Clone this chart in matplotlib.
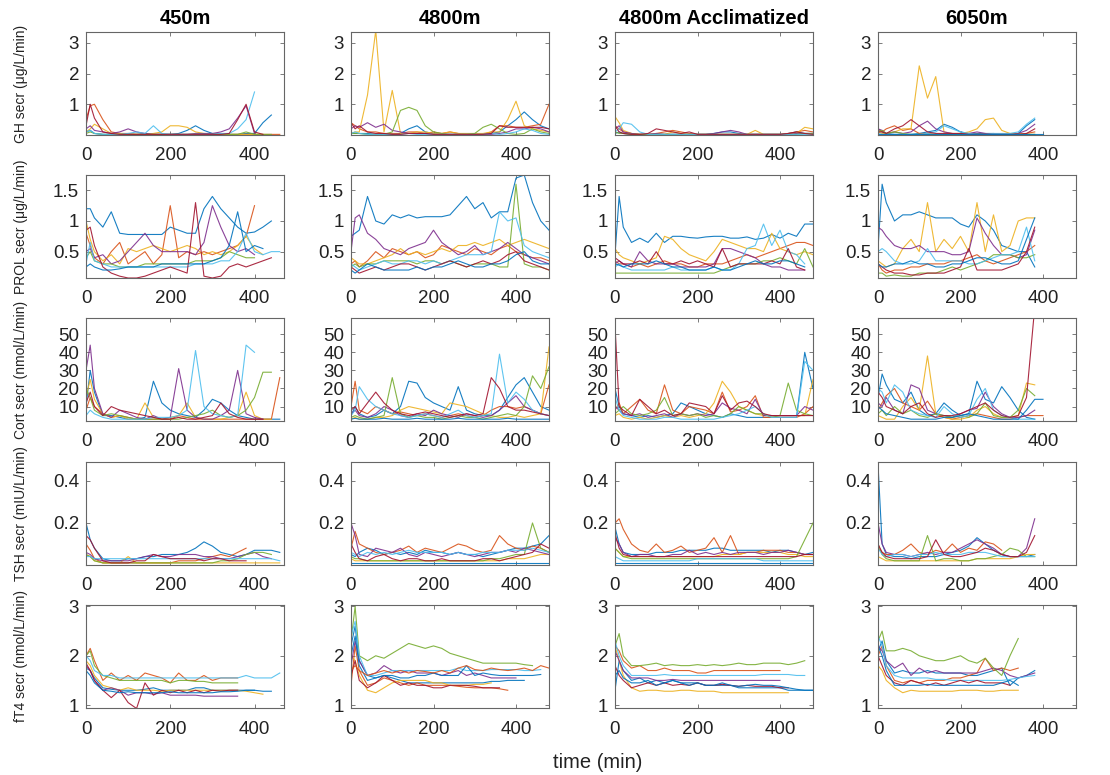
import matplotlib
matplotlib.use('Agg')
import matplotlib.pyplot as plt

plt.rcParams['font.family'] = ['Liberation Sans', 'DejaVu Sans']

# sampling times (min)
minutes = [0, 10, 20, 40, 60, 80, 100, 120, 140, 160, 180, 200, 220, 240,
           260, 280, 300, 320, 340, 360, 380, 400, 420, 440, 460, 480]

conditions = ['450m', '4800m', '4800m Acclimatized', '6050m']

# ---------------- GH secretion (ug/L/min) ----------------
gh_450 = [
    [0.1, 0.15, 0.05, 0.02, 0.02, 0.02, 0.02, 0.02, 0.05, 0.02, 0.02, 0.02, 0.05, 0.15, 0.3, 0.15, 0.05, 0.02, 0.02, 0.02, 0.05, 0.05, 0.4, 0.65],
    [0.5, 0.95, 1.0, 0.5, 0.1, 0.05, 0.05, 0.02, 0.02, 0.02, 0.02, 0.02, 0.02, 0.02, 0.02, 0.02, 0.02, 0.02, 0.02, 0.02, 0.02, 0.02, 0.02, 0.02, 0.02],
    [0.1, 0.2, 0.35, 0.2, 0.05, 0.05, 0.02, 0.02, 0.02, 0.05, 0.1, 0.3, 0.3, 0.25, 0.1, 0.05, 0.02, 0.02, 0.02, 0.02, 0.02, 0.02, 0.02],
    [0.2, 0.3, 0.15, 0.1, 0.05, 0.1, 0.2, 0.1, 0.05, 0.02, 0.02, 0.02, 0.02, 0.02, 0.05, 0.05, 0.05, 0.1, 0.2, 0.55, 0.95, 0.05],
    [0.05, 0.1, 0.05, 0.02, 0.02, 0.02, 0.02, 0.02, 0.02, 0.02, 0.02, 0.02, 0.02, 0.02, 0.02, 0.02, 0.02, 0.02, 0.02, 0.02, 0.1, 0.02, 0.02, 0.02],
    [0.1, 0.15, 0.05, 0.02, 0.02, 0.02, 0.05, 0.1, 0.05, 0.3, 0.05, 0.02, 0.02, 0.02, 0.02, 0.02, 0.02, 0.05, 0.05, 0.2, 0.5, 1.4],
    [0.3, 1.0, 0.55, 0.1, 0.05, 0.02, 0.02, 0.02, 0.02, 0.02, 0.02, 0.02, 0.02, 0.02, 0.02, 0.02, 0.02, 0.02, 0.05, 0.5, 1.0, 0.1, 0.02],
]
gh_4800 = [
    [0.05, 0.05, 0.05, 0.05, 0.02, 0.02, 0.02, 0.05, 0.2, 0.3, 0.1, 0.05, 0.02, 0.02, 0.02, 0.02, 0.02, 0.02, 0.05, 0.1, 0.3, 0.5, 0.75, 0.5, 0.3, 0.2],
    [0.4, 0.3, 0.2, 0.1, 0.1, 0.05, 0.05, 0.05, 0.1, 0.1, 0.05, 0.1, 0.05, 0.1, 0.05, 0.02, 0.02, 0.02, 0.1, 0.3, 0.3, 0.25, 0.25, 0.3, 0.35, 1.0],
    [0.05, 0.1, 0.1, 1.3, 3.4, 0.1, 1.45, 0.05, 0.05, 0.1, 0.1, 0.05, 0.05, 0.1, 0.05, 0.05, 0.05, 0.05, 0.1, 0.1, 0.5, 1.1, 0.3, 0.2, 0.15, 0.1],
    [0.2, 0.3, 0.25, 0.4, 0.25, 0.35, 0.15, 0.1, 0.05, 0.05, 0.05, 0.02, 0.02, 0.02, 0.02, 0.02, 0.02, 0.02, 0.02, 0.05, 0.1, 0.2, 0.2, 0.25, 0.2, 0.1],
    [0.05, 0.05, 0.05, 0.02, 0.02, 0.02, 0.1, 0.8, 0.9, 0.8, 0.3, 0.1, 0.05, 0.02, 0.02, 0.02, 0.05, 0.25, 0.35, 0.2, 0.05, 0.02, 0.05, 0.2, 0.1, 0.05],
    [0.05, 0.1, 0.05, 0.02, 0.02, 0.02, 0.02, 0.02, 0.05, 0.02, 0.02, 0.02, 0.02, 0.02, 0.02, 0.02, 0.02, 0.02, 0.05, 0.02, 0.05, 0.1, 0.2, 0.15, 0.05, 0.02],
    [0.4, 0.2, 0.3, 0.1, 0.05, 0.05, 0.02, 0.02, 0.05, 0.05, 0.05, 0.02, 0.02, 0.02, 0.02, 0.02, 0.02, 0.02, 0.05, 0.3, 0.25, 0.25, 0.25, 0.25, 0.25, 0.2],
]
gh_4800acc = [
    [0.05, 0.1, 0.05, 0.02, 0.02, 0.02, 0.02, 0.02, 0.02, 0.02, 0.02, 0.02, 0.02, 0.05, 0.1, 0.1, 0.05, 0.02, 0.02, 0.02, 0.02, 0.02, 0.05, 0.1, 0.05, 0.05],
    [0.3, 0.2, 0.1, 0.05, 0.02, 0.02, 0.05, 0.1, 0.15, 0.1, 0.05, 0.02, 0.02, 0.02, 0.02, 0.02, 0.02, 0.02, 0.02, 0.02, 0.02, 0.02, 0.05, 0.1, 0.15, 0.1],
    [0.6, 0.4, 0.15, 0.05, 0.02, 0.02, 0.02, 0.02, 0.1, 0.05, 0.02, 0.02, 0.02, 0.02, 0.02, 0.02, 0.02, 0.02, 0.15, 0.02, 0.02, 0.02, 0.02, 0.05, 0.25, 0.2],
    [0.2, 0.3, 0.1, 0.05, 0.02, 0.02, 0.05, 0.02, 0.02, 0.02, 0.02, 0.02, 0.02, 0.05, 0.1, 0.15, 0.1, 0.02, 0.02, 0.02, 0.02, 0.02, 0.02, 0.05, 0.05, 0.05],
    [0.1, 0.05, 0.05, 0.02, 0.02, 0.02, 0.02, 0.02, 0.02, 0.02, 0.02, 0.02, 0.02, 0.02, 0.02, 0.02, 0.02, 0.02, 0.02, 0.02, 0.02, 0.02, 0.02, 0.02, 0.05, 0.05],
    [0.1, 0.2, 0.4, 0.35, 0.1, 0.02, 0.02, 0.02, 0.02, 0.02, 0.02, 0.02, 0.02, 0.02, 0.02, 0.02, 0.02, 0.02, 0.02, 0.02, 0.02, 0.02, 0.02, 0.02, 0.02, 0.02],
    [0.3, 0.1, 0.05, 0.02, 0.02, 0.05, 0.2, 0.15, 0.1, 0.05, 0.1, 0.02, 0.02, 0.02, 0.02, 0.02, 0.02, 0.02, 0.02, 0.02, 0.02, 0.02, 0.05, 0.1, 0.05, 0.02],
]
gh_6050 = [
    [0.2, 0.1, 0.05, 0.02, 0.02, 0.02, 0.05, 0.1, 0.15, 0.35, 0.25, 0.1, 0.05, 0.05, 0.05, 0.05, 0.02, 0.02, 0.05, 0.3, 0.5],
    [0.2, 0.1, 0.2, 0.3, 0.15, 0.2, 0.05, 0.05, 0.02, 0.02, 0.02, 0.05, 0.02, 0.02, 0.02, 0.02, 0.02, 0.02, 0.02, 0.05, 0.1],
    [0.1, 0.05, 0.05, 0.1, 0.2, 0.2, 2.25, 1.2, 1.9, 0.1, 0.05, 0.05, 0.1, 0.2, 0.5, 0.55, 0.15, 0.05, 0.05, 0.02, 0.02],
    [0.2, 0.15, 0.05, 0.1, 0.05, 0.1, 0.3, 0.45, 0.2, 0.1, 0.05, 0.02, 0.05, 0.1, 0.05, 0.02, 0.02, 0.02, 0.05, 0.15, 0.35],
    [0.1, 0.15, 0.05, 0.1, 0.05, 0.02, 0.02, 0.02, 0.02, 0.02, 0.02, 0.02, 0.02, 0.02, 0.02, 0.02, 0.02, 0.02, 0.02, 0.02, 0.02],
    [0.05, 0.02, 0.02, 0.02, 0.02, 0.02, 0.02, 0.05, 0.1, 0.3, 0.2, 0.1, 0.05, 0.02, 0.02, 0.05, 0.05, 0.05, 0.1, 0.35, 0.55],
    [0.1, 0.1, 0.05, 0.2, 0.3, 0.5, 0.3, 0.1, 0.05, 0.05, 0.05, 0.05, 0.02, 0.02, 0.02, 0.02, 0.02, 0.02, 0.02, 0.05, 0.2],
    [0.02, 0.02, 0.02, 0.02, 0.02, 0.02, 0.02, 0.02, 0.02, 0.02, 0.02, 0.02, 0.02, 0.02, 0.02, 0.02, 0.02, 0.02, 0.02, 0.02, 0.02, 0.02],
]

# ---------------- PROL secretion (ug/L/min) ----------------
prol_450 = [
    [1.2, 1.2, 1.05, 0.9, 1.15, 0.8, 0.78, 0.78, 0.78, 0.78, 0.78, 0.9, 0.85, 0.8, 0.8, 1.2, 1.4, 1.2, 1.05, 0.9, 0.8, 0.82, 0.9, 1.0],
    [0.8, 0.6, 0.4, 0.3, 0.5, 0.65, 0.3, 0.4, 0.5, 0.3, 0.45, 1.25, 0.4, 0.5, 0.45, 0.5, 0.45, 0.5, 0.55, 0.6, 0.75, 1.25],
    [1.0, 0.7, 0.5, 0.35, 0.45, 0.3, 0.55, 0.5, 0.55, 0.6, 0.55, 0.5, 0.55, 0.6, 0.55, 0.45, 0.5, 0.45, 0.5, 0.6, 0.75, 0.55, 0.45],
    [0.5, 0.55, 0.4, 0.45, 0.3, 0.35, 0.5, 0.65, 0.8, 0.6, 0.5, 0.5, 0.5, 0.5, 0.45, 0.65, 1.25, 0.9, 0.6, 0.5, 0.55, 0.45],
    [0.4, 0.5, 0.35, 0.3, 0.3, 0.25, 0.25, 0.25, 0.3, 0.3, 0.3, 0.3, 0.3, 0.3, 0.35, 0.35, 0.35, 0.4, 0.5, 0.45, 0.4, 0.4],
    [0.3, 0.65, 0.35, 0.3, 0.25, 0.25, 0.25, 0.25, 0.25, 0.25, 0.25, 0.25, 0.25, 0.25, 0.3, 0.3, 0.3, 0.35, 0.35, 0.5, 0.8, 0.5, 0.45, 0.5, 0.5],
    [0.85, 0.9, 0.6, 0.25, 0.15, 0.1, 0.07, 0.07, 0.1, 0.15, 0.2, 0.25, 0.2, 0.15, 1.3, 0.1, 0.07, 0.1, 0.25, 0.3, 0.25, 0.3, 0.35, 0.4],
    [0.25, 0.3, 0.25, 0.2, 0.2, 0.22, 0.25, 0.25, 0.25, 0.25, 0.3, 0.3, 0.3, 0.3, 0.3, 0.3, 0.35, 0.4, 0.6, 1.15, 0.5, 0.6, 0.55],
]
prol_4800 = [
    [0.75, 0.8, 0.85, 1.4, 1.0, 0.95, 1.1, 1.05, 1.1, 1.05, 1.07, 1.07, 1.07, 1.1, 1.25, 1.4, 1.2, 1.3, 1.05, 1.15, 1.15, 1.7, 1.75, 1.3, 1.0, 0.85],
    [0.3, 0.35, 0.25, 0.35, 0.5, 0.4, 0.55, 0.5, 0.45, 0.5, 0.4, 0.45, 0.6, 0.55, 0.5, 0.45, 0.55, 0.5, 0.45, 0.55, 0.6, 0.5, 0.45, 0.4, 0.4, 0.35],
    [0.4, 0.35, 0.3, 0.3, 0.35, 0.4, 0.45, 0.55, 0.45, 0.5, 0.45, 0.5, 0.55, 0.5, 0.6, 0.6, 0.65, 0.6, 0.65, 0.7, 0.6, 0.65, 0.7, 0.65, 0.6, 0.55],
    [0.5, 1.05, 1.1, 0.8, 0.7, 0.55, 0.5, 0.45, 0.55, 0.6, 0.65, 0.85, 0.65, 0.55, 0.45, 0.5, 0.6, 0.45, 0.5, 0.55, 0.65, 0.55, 0.45, 0.4, 0.35, 0.3],
    [0.25, 0.3, 0.25, 0.3, 0.3, 0.35, 0.35, 0.35, 0.35, 0.3, 0.35, 0.35, 0.3, 0.35, 0.3, 0.25, 0.3, 0.3, 0.3, 0.25, 0.25, 1.6, 0.3, 0.25, 0.25, 0.2],
    [0.3, 0.25, 0.2, 0.25, 0.3, 0.35, 0.3, 0.3, 0.35, 0.35, 0.3, 0.35, 0.3, 0.35, 0.4, 0.45, 0.45, 0.45, 0.5, 1.15, 1.0, 1.05, 0.6, 0.5, 0.45, 0.4],
    [0.25, 0.2, 0.15, 0.2, 0.25, 0.2, 0.25, 0.3, 0.3, 0.25, 0.2, 0.25, 0.3, 0.35, 0.3, 0.25, 0.3, 0.35, 0.3, 0.35, 0.45, 0.5, 0.35, 0.3, 0.25, 0.2],
    [0.2, 0.15, 0.2, 0.3, 0.25, 0.2, 0.2, 0.2, 0.2, 0.25, 0.2, 0.25, 0.25, 0.3, 0.35, 0.3, 0.25, 0.25, 0.3, 0.3, 0.35, 0.45, 0.5, 0.35, 0.3, 0.3],
]
prol_4800acc = [
    [0.45, 1.4, 0.9, 0.65, 0.72, 0.65, 0.8, 0.65, 0.75, 0.75, 0.73, 0.72, 0.74, 0.75, 0.75, 0.72, 0.72, 0.74, 0.7, 0.72, 0.78, 0.72, 0.8, 0.75, 0.95, 0.95],
    [0.35, 0.3, 0.3, 0.25, 0.3, 0.25, 0.3, 0.35, 0.3, 0.3, 0.25, 0.25, 0.3, 0.3, 0.3, 0.35, 0.4, 0.45, 0.4, 0.45, 0.5, 0.55, 0.6, 0.65, 0.65, 0.6],
    [0.55, 0.45, 0.4, 0.35, 0.3, 0.35, 0.4, 0.75, 0.7, 0.55, 0.45, 0.4, 0.35, 0.5, 0.7, 0.65, 0.6, 0.55, 0.55, 0.5, 0.8, 0.55, 0.5, 0.45, 0.5, 0.45],
    [0.3, 0.35, 0.3, 0.25, 0.5, 0.35, 0.3, 0.3, 0.3, 0.25, 0.25, 0.25, 0.25, 0.3, 0.55, 0.55, 0.5, 0.45, 0.4, 0.3, 0.25, 0.25, 0.2, 0.2, 0.2],
    [0.15, 0.15, 0.15, 0.15, 0.15, 0.15, 0.15, 0.15, 0.15, 0.15, 0.15, 0.15, 0.15, 0.15, 0.2, 0.25, 0.3, 0.3, 0.3, 0.35, 0.35, 0.4, 0.35, 0.3, 0.55, 0.25],
    [0.25, 0.3, 0.25, 0.2, 0.2, 0.2, 0.2, 0.2, 0.25, 0.2, 0.2, 0.2, 0.2, 0.25, 0.2, 0.2, 0.3, 0.55, 0.6, 0.95, 0.6, 0.85, 0.5, 0.45, 0.3],
    [0.4, 0.35, 0.3, 0.3, 0.35, 0.3, 0.5, 0.3, 0.3, 0.35, 0.3, 0.35, 0.3, 0.25, 0.55, 0.25, 0.3, 0.3, 0.3, 0.3, 0.35, 0.3, 0.55, 0.25, 0.2],
    [0.3, 0.28, 0.25, 0.3, 0.3, 0.3, 0.35, 0.3, 0.25, 0.25, 0.2, 0.2, 0.2, 0.25, 0.2, 0.2, 0.25, 0.3, 0.35, 0.3, 0.3, 0.35, 0.35, 0.3, 0.25],
]
prol_6050 = [
    [0.55, 1.6, 1.3, 1.0, 1.1, 1.1, 1.15, 1.1, 1.05, 1.05, 1.05, 0.95, 0.9, 1.1, 1.0, 0.85, 0.6, 0.55, 0.5, 0.5, 0.25],
    [0.3, 0.2, 0.15, 0.2, 0.2, 0.25, 0.25, 0.3, 0.3, 0.3, 0.35, 0.35, 0.4, 0.45, 0.35, 0.3, 0.35, 0.4, 0.45, 0.5, 0.6],
    [0.35, 0.3, 0.25, 0.3, 0.55, 0.7, 0.5, 1.3, 0.5, 0.7, 0.55, 0.75, 0.5, 1.3, 0.5, 1.1, 0.5, 0.6, 1.0, 1.05, 1.05],
    [0.9, 0.85, 0.75, 0.6, 0.55, 0.55, 0.6, 0.5, 0.5, 0.5, 0.45, 0.45, 0.5, 1.05, 0.8, 0.6, 0.45, 0.45, 0.4, 0.45, 0.85],
    [0.15, 0.15, 0.1, 0.12, 0.1, 0.1, 0.15, 0.15, 0.15, 0.2, 0.25, 0.2, 0.25, 0.3, 0.35, 0.45, 0.45, 0.45, 0.4, 0.4, 0.45],
    [0.5, 0.55, 0.5, 0.35, 0.3, 0.3, 0.35, 0.55, 0.35, 0.35, 0.35, 0.35, 0.3, 0.3, 0.35, 0.4, 0.45, 0.45, 0.5, 0.9, 0.35],
    [0.3, 0.25, 0.2, 0.15, 0.15, 0.12, 0.12, 0.15, 0.15, 0.15, 0.2, 0.25, 0.55, 0.2, 0.2, 0.2, 0.2, 0.25, 0.3, 0.5, 0.9],
    [0.3, 0.25, 0.25, 0.3, 0.3, 0.35, 0.3, 0.3, 0.25, 0.25, 0.3, 0.3, 0.35, 0.4, 0.4, 0.35, 0.3, 0.3, 0.35, 0.7, 1.05],
]

# ---------------- Cortisol secretion (nmol/L/min) ----------------
cort_450 = [
    [10, 30, 18, 5, 5, 4, 3, 3, 4, 24, 12, 8, 6, 5, 4, 8, 14, 12, 8, 5, 4, 3, 3, 3, 3],
    [8, 15, 10, 6, 4, 5, 4, 3, 3, 3, 3, 3, 5, 4, 3, 3, 3, 3, 3, 3, 3, 3, 3, 3, 26],
    [15, 25, 14, 6, 4, 5, 3, 3, 12, 4, 3, 4, 5, 12, 4, 3, 3, 3, 4, 5, 18, 5, 3, 3],
    [30, 44, 20, 6, 4, 8, 6, 4, 3, 5, 3, 4, 31, 8, 4, 3, 3, 5, 8, 30, 6, 4, 3],
    [20, 15, 8, 5, 6, 5, 4, 3, 3, 3, 3, 3, 3, 4, 5, 6, 8, 5, 4, 5, 8, 15, 29, 29],
    [5, 8, 6, 4, 3, 3, 3, 3, 3, 4, 4, 4, 5, 8, 41, 10, 6, 5, 4, 5, 44, 40],
    [12, 18, 10, 5, 10, 8, 7, 6, 5, 4, 3, 3, 4, 3, 3, 4, 5, 12, 6, 4, 3, 3, 3],
]
cort_4800 = [
    [5, 10, 6, 4, 5, 8, 6, 10, 24, 23, 15, 12, 10, 8, 21, 8, 6, 5, 5, 8, 15, 22, 26, 18, 10, 8],
    [10, 24, 8, 6, 10, 8, 6, 7, 6, 5, 6, 5, 4, 5, 6, 5, 4, 5, 8, 10, 10, 9, 10, 8, 6, 22],
    [3, 4, 3, 3, 4, 4, 5, 8, 10, 9, 8, 7, 6, 12, 11, 10, 8, 6, 5, 4, 4, 5, 4, 5, 6, 43],
    [6, 8, 5, 4, 6, 10, 8, 5, 4, 6, 5, 8, 6, 5, 4, 6, 5, 4, 5, 8, 12, 16, 10, 8, 6, 5],
    [4, 5, 4, 3, 4, 5, 26, 6, 4, 5, 4, 4, 3, 4, 5, 4, 4, 3, 4, 5, 6, 5, 10, 27, 20, 32],
    [5, 8, 21, 14, 10, 8, 6, 5, 4, 5, 6, 5, 4, 6, 8, 5, 4, 5, 6, 39, 12, 18, 14, 8, 6, 5],
    [8, 10, 6, 12, 18, 12, 8, 6, 5, 6, 7, 6, 5, 4, 5, 6, 5, 6, 26, 20, 10, 8, 8, 7, 6, 5],
    [3, 3.5, 3, 3, 3, 3.5, 3, 3, 3, 3.5, 3, 3, 3, 3, 3.5, 3, 3, 3, 3, 3, 3.5, 3, 3, 3, 3, 3],
]
cort_4800acc = [
    [20, 10, 6, 5, 4, 5, 4, 5, 6, 12, 10, 8, 6, 5, 4, 6, 5, 4, 4, 4, 4, 4, 4, 4, 40, 20],
    [8, 12, 6, 10, 14, 8, 6, 22, 8, 6, 10, 9, 8, 6, 18, 7, 8, 10, 16, 4, 4, 4, 4, 4, 6, 10],
    [5, 6, 4, 3, 4, 3, 4, 5, 4, 5, 4, 5, 6, 12, 24, 18, 10, 8, 6, 5, 5, 5, 5, 5, 5, 25],
    [10, 8, 6, 5, 6, 4, 5, 6, 4, 6, 5, 6, 5, 6, 12, 9, 8, 6, 14, 5, 5, 5, 5, 5, 10, 8],
    [6, 8, 10, 6, 5, 6, 8, 15, 5, 6, 5, 6, 4, 5, 4, 6, 10, 8, 6, 6, 4, 5, 23, 8, 6, 5],
    [15, 8, 5, 4, 3, 3, 3, 4, 4, 3, 3, 3, 3, 3, 4, 5, 6, 8, 10, 6, 4, 4, 4, 4, 35, 30],
    [55, 10, 8, 5, 14, 10, 6, 8, 5, 6, 12, 11, 10, 6, 16, 8, 12, 13, 10, 6, 5, 5, 5, 5, 5, 5],
]
cort_6050 = [
    [15, 28, 22, 14, 12, 18, 8, 5, 6, 12, 8, 5, 6, 24, 14, 12, 21, 15, 8, 4, 3],
    [8, 12, 16, 20, 12, 10, 8, 13, 6, 4, 3, 4, 5, 6, 5, 4, 3, 3, 4, 5, 5, 5],
    [5, 4, 3, 3, 10, 15, 8, 38, 6, 4, 3, 3, 4, 8, 10, 6, 4, 4, 5, 23, 22],
    [12, 10, 15, 8, 6, 22, 20, 8, 6, 5, 4, 6, 8, 9, 18, 10, 6, 4, 4, 5, 8],
    [6, 8, 5, 10, 6, 8, 5, 4, 6, 5, 4, 5, 4, 6, 12, 5, 4, 4, 8, 20, 16],
    [20, 18, 12, 22, 18, 8, 6, 5, 4, 10, 6, 4, 5, 14, 20, 8, 5, 4, 3, 3, 3],
    [18, 15, 10, 8, 6, 10, 12, 6, 4, 5, 5, 6, 8, 10, 12, 8, 5, 4, 5, 15, 65],
    [10, 8, 6, 5, 4, 3, 3, 3, 3, 4, 4, 5, 6, 5, 4, 3, 3, 3, 3, 8, 14, 14],
]

# ---------------- TSH secretion (mIU/L/min) ----------------
tsh_450 = [
    [0.2, 0.12, 0.08, 0.03, 0.02, 0.02, 0.03, 0.03, 0.04, 0.04, 0.05, 0.05, 0.05, 0.06, 0.08, 0.11, 0.09, 0.06, 0.05, 0.04, 0.05, 0.07, 0.07, 0.07, 0.06],
    [0.1, 0.07, 0.03, 0.01, 0.01, 0.01, 0.01, 0.01, 0.01, 0.01, 0.01, 0.01, 0.02, 0.02, 0.02, 0.03, 0.04, 0.05, 0.04, 0.06, 0.08],
    [0.05, 0.04, 0.02, 0.01, 0.01, 0.01, 0.04, 0.01, 0.01, 0.01, 0.01, 0.01, 0.01, 0.01, 0.01, 0.01, 0.01, 0.01, 0.01, 0.01, 0.01, 0.01, 0.01, 0.01, 0.01],
    [0.06, 0.05, 0.03, 0.02, 0.02, 0.02, 0.02, 0.03, 0.04, 0.05, 0.04, 0.04, 0.05, 0.05, 0.05, 0.04, 0.04, 0.03, 0.03, 0.04, 0.05, 0.06, 0.04, 0.03],
    [0.05, 0.04, 0.02, 0.01, 0.01, 0.01, 0.01, 0.01, 0.01, 0.01, 0.01, 0.01, 0.01, 0.01, 0.01, 0.01, 0.01, 0.02, 0.02, 0.03, 0.05, 0.06, 0.06, 0.05],
    [0.04, 0.04, 0.03, 0.03, 0.03, 0.03, 0.03, 0.03, 0.03, 0.03, 0.03, 0.03, 0.03, 0.03, 0.03, 0.03, 0.03, 0.03, 0.03, 0.03, 0.03, 0.03, 0.03, 0.03, 0.02],
    [0.14, 0.12, 0.08, 0.02, 0.01, 0.01, 0.01, 0.02, 0.02, 0.05, 0.04, 0.03, 0.03, 0.03, 0.03, 0.02, 0.03, 0.03, 0.02, 0.02, 0.02],
]
tsh_4800 = [
    [0.05, 0.04, 0.06, 0.08, 0.07, 0.05, 0.06, 0.05, 0.06, 0.05, 0.07, 0.06, 0.06, 0.05, 0.06, 0.05, 0.05, 0.04, 0.05, 0.06, 0.07, 0.08, 0.08, 0.09, 0.1, 0.14],
    [0.08, 0.16, 0.1, 0.08, 0.06, 0.05, 0.06, 0.07, 0.09, 0.06, 0.08, 0.07, 0.06, 0.08, 0.1, 0.09, 0.07, 0.06, 0.07, 0.14, 0.1, 0.08, 0.07, 0.09, 0.08, 0.06],
    [0.03, 0.02, 0.02, 0.02, 0.02, 0.02, 0.02, 0.02, 0.02, 0.02, 0.02, 0.02, 0.02, 0.02, 0.02, 0.02, 0.02, 0.02, 0.02, 0.02, 0.03, 0.03, 0.03, 0.04, 0.05, 0.05],
    [0.2, 0.14, 0.05, 0.04, 0.08, 0.07, 0.06, 0.08, 0.05, 0.04, 0.06, 0.05, 0.04, 0.05, 0.06, 0.05, 0.04, 0.05, 0.06, 0.06, 0.07, 0.06, 0.08, 0.07, 0.06, 0.05],
    [0.04, 0.03, 0.03, 0.02, 0.02, 0.02, 0.02, 0.02, 0.02, 0.02, 0.02, 0.02, 0.02, 0.02, 0.02, 0.02, 0.02, 0.02, 0.03, 0.03, 0.04, 0.05, 0.05, 0.2, 0.08, 0.06],
    [0.06, 0.05, 0.04, 0.06, 0.05, 0.06, 0.05, 0.06, 0.07, 0.06, 0.06, 0.06, 0.06, 0.05, 0.06, 0.05, 0.05, 0.06, 0.06, 0.06, 0.07, 0.07, 0.07, 0.08, 0.07, 0.06],
    [0.1, 0.06, 0.03, 0.02, 0.04, 0.05, 0.03, 0.02, 0.03, 0.03, 0.02, 0.02, 0.03, 0.02, 0.02, 0.02, 0.02, 0.03, 0.03, 0.02, 0.03, 0.04, 0.05, 0.06, 0.1, 0.08],
    [0.008, 0.008, 0.008, 0.008, 0.008, 0.008, 0.008, 0.008, 0.008, 0.008, 0.008, 0.008, 0.008, 0.008, 0.008, 0.008, 0.008, 0.008, 0.008, 0.008, 0.008, 0.008, 0.008, 0.008, 0.008, 0.008],
]
tsh_4800acc = [
    [0.18, 0.1, 0.06, 0.05, 0.05, 0.05, 0.06, 0.06, 0.06, 0.07, 0.07, 0.07, 0.07, 0.08, 0.08, 0.07, 0.07, 0.07, 0.07, 0.07, 0.06, 0.07, 0.07, 0.06, 0.05, 0.06],
    [0.2, 0.22, 0.17, 0.1, 0.07, 0.06, 0.1, 0.06, 0.07, 0.09, 0.06, 0.07, 0.08, 0.13, 0.06, 0.14, 0.05, 0.06, 0.06, 0.07, 0.07, 0.07, 0.06, 0.06, 0.05, 0.05],
    [0.08, 0.06, 0.04, 0.04, 0.04, 0.04, 0.04, 0.04, 0.04, 0.04, 0.04, 0.04, 0.04, 0.04, 0.05, 0.05, 0.05, 0.06, 0.06, 0.06, 0.06, 0.06, 0.05, 0.05, 0.04, 0.04],
    [0.13, 0.1, 0.06, 0.04, 0.05, 0.05, 0.04, 0.04, 0.05, 0.05, 0.07, 0.05, 0.06, 0.05, 0.06, 0.05, 0.06, 0.06, 0.06, 0.05, 0.06, 0.06, 0.07, 0.06, 0.05, 0.05],
    [0.08, 0.06, 0.04, 0.03, 0.03, 0.03, 0.03, 0.03, 0.03, 0.03, 0.03, 0.03, 0.03, 0.03, 0.03, 0.03, 0.03, 0.03, 0.03, 0.03, 0.03, 0.03, 0.03, 0.04, 0.12, 0.2],
    [0.04, 0.03, 0.02, 0.02, 0.02, 0.02, 0.02, 0.02, 0.02, 0.02, 0.02, 0.03, 0.03, 0.03, 0.03, 0.03, 0.03, 0.03, 0.03, 0.02, 0.02, 0.02, 0.02, 0.02, 0.02, 0.02],
    [0.15, 0.08, 0.05, 0.04, 0.04, 0.04, 0.04, 0.04, 0.04, 0.04, 0.04, 0.04, 0.04, 0.04, 0.04, 0.04, 0.04, 0.04, 0.04, 0.04, 0.04, 0.04, 0.04, 0.04, 0.05, 0.05],
    [0.008, 0.008, 0.008, 0.008, 0.008, 0.008, 0.008, 0.008, 0.008, 0.008, 0.008, 0.008, 0.008, 0.008, 0.008, 0.008, 0.008, 0.008, 0.008, 0.008, 0.008, 0.008, 0.008, 0.008, 0.008, 0.008],
]
tsh_6050 = [
    [0.48, 0.1, 0.05, 0.04, 0.04, 0.03, 0.04, 0.04, 0.04, 0.05, 0.06, 0.07, 0.09, 0.13, 0.1, 0.07, 0.05, 0.04, 0.04, 0.04, 0.05],
    [0.08, 0.06, 0.05, 0.05, 0.07, 0.1, 0.06, 0.05, 0.07, 0.06, 0.1, 0.06, 0.08, 0.07, 0.11, 0.1, 0.07],
    [0.04, 0.03, 0.02, 0.02, 0.02, 0.02, 0.02, 0.02, 0.02, 0.02, 0.02, 0.02, 0.02, 0.03, 0.03, 0.03, 0.03, 0.03, 0.04, 0.05, 0.05],
    [0.2, 0.1, 0.06, 0.05, 0.05, 0.04, 0.05, 0.06, 0.05, 0.06, 0.06, 0.08, 0.1, 0.12, 0.1, 0.08, 0.05, 0.04, 0.04, 0.08, 0.22],
    [0.1, 0.05, 0.03, 0.02, 0.02, 0.02, 0.02, 0.14, 0.02, 0.03, 0.03, 0.02, 0.02, 0.03, 0.03, 0.04, 0.05, 0.08, 0.07, 0.04, 0.04],
    [0.08, 0.05, 0.04, 0.05, 0.05, 0.04, 0.05, 0.05, 0.06, 0.05, 0.05, 0.05, 0.06, 0.06, 0.06, 0.05, 0.04, 0.04, 0.04, 0.04, 0.04],
    [0.1, 0.06, 0.04, 0.03, 0.03, 0.03, 0.03, 0.04, 0.12, 0.05, 0.04, 0.04, 0.05, 0.06, 0.08, 0.07, 0.05, 0.04, 0.04, 0.06, 0.14],
]

# ---------------- fT4 secretion (nmol/L/min) ----------------
ft4_450 = [
    [1.75, 1.7, 1.55, 1.35, 1.32, 1.3, 1.3, 1.3, 1.32, 1.35, 1.3, 1.3, 1.3, 1.3, 1.35, 1.35, 1.3, 1.3, 1.3, 1.3, 1.3, 1.3, 1.28, 1.28],
    [2.0, 2.15, 1.9, 1.5, 1.65, 1.5, 1.6, 1.5, 1.65, 1.6, 1.55, 1.45, 1.65, 1.5, 1.5, 1.6, 1.5, 1.55, 1.55, 1.55],
    [1.9, 1.8, 1.6, 1.4, 1.35, 1.3, 1.35, 1.3, 1.3, 1.3, 1.28, 1.3, 1.3, 1.3, 1.3, 1.3, 1.3, 1.3, 1.3, 1.3, 1.28, 1.25, 1.22],
    [1.8, 1.7, 1.5, 1.3, 1.35, 1.3, 1.2, 1.25, 1.25, 1.22, 1.25, 1.2, 1.2, 1.2, 1.2, 1.18, 1.18, 1.18, 1.18, 1.18],
    [2.0, 2.1, 1.8, 1.6, 1.55, 1.5, 1.5, 1.5, 1.5, 1.5, 1.5, 1.45, 1.5, 1.5, 1.48, 1.48, 1.45, 1.45, 1.45, 1.45],
    [2.0, 1.9, 1.7, 1.6, 1.6, 1.55, 1.55, 1.55, 1.55, 1.55, 1.55, 1.55, 1.55, 1.55, 1.55, 1.55, 1.55, 1.55, 1.55, 1.55, 1.6, 1.55, 1.55, 1.55, 1.65],
    [1.85, 1.7, 1.5, 1.3, 1.15, 1.3, 1.05, 0.93, 1.45, 1.2, 1.3, 1.25, 1.3, 1.25, 1.3, 1.25, 1.3, 1.28, 1.3, 1.3],
    [1.7, 1.6, 1.45, 1.3, 1.28, 1.25, 1.27, 1.25, 1.25, 1.25, 1.25, 1.27, 1.25, 1.25, 1.25, 1.25, 1.25, 1.27, 1.27, 1.28, 1.3, 1.3],
]
ft4_4800 = [
    [2.2, 2.6, 1.9, 1.6, 1.55, 1.6, 1.55, 1.5, 1.45, 1.45, 1.45, 1.45, 1.45, 1.45, 1.45, 1.45, 1.45, 1.45, 1.48, 1.48, 1.5, 1.5, 1.5],
    [1.4, 2.2, 1.7, 1.4, 1.45, 1.55, 1.5, 1.45, 1.4, 1.45, 1.4, 1.4, 1.4, 1.4, 1.38, 1.36, 1.35, 1.35, 1.35, 1.33, 1.3],
    [2.0, 1.9, 1.6, 1.3, 1.25, 1.35, 1.45, 1.5, 1.5, 1.5, 1.5, 1.45, 1.45, 1.4, 1.4, 1.4, 1.42, 1.42, 1.45],
    [1.8, 2.3, 1.9, 1.6, 1.65, 1.8, 1.7, 1.65, 1.7, 1.65, 1.65, 1.65, 1.6, 1.65, 1.7, 1.6, 1.65, 1.6, 1.55, 1.55, 1.55, 1.55],
    [2.3, 3.0, 2.0, 1.9, 2.0, 1.95, 2.05, 2.15, 2.25, 2.2, 2.15, 2.2, 2.15, 2.05, 2.0, 1.95, 1.9, 1.85, 1.85, 1.85, 1.85, 1.85, 1.82, 1.8],
    [2.4, 2.7, 2.0, 1.6, 1.6, 1.65, 1.7, 1.7, 1.7, 1.7, 1.7, 1.7, 1.7, 1.7, 1.75, 1.7, 1.7, 1.7, 1.72, 1.72, 1.72, 1.72, 1.7, 1.7, 1.72],
    [1.6, 1.9, 1.5, 1.35, 1.45, 1.6, 1.5, 1.4, 1.45, 1.4, 1.4, 1.35, 1.35, 1.4, 1.4, 1.4, 1.38, 1.35, 1.35, 1.35],
    [2.0, 2.4, 1.8, 1.5, 1.55, 1.6, 1.6, 1.55, 1.55, 1.6, 1.6, 1.65, 1.6, 1.6, 1.6, 1.8, 1.6, 1.65, 1.62, 1.6, 1.6, 1.6, 1.6, 1.6, 1.62],
    [1.7, 1.8, 1.7, 1.6, 1.65, 1.7, 1.65, 1.7, 1.65, 1.7, 1.68, 1.65, 1.7, 1.65, 1.75, 1.8, 1.72, 1.7, 1.75, 1.72, 1.7, 1.72, 1.75, 1.7, 1.8, 1.75],
]
ft4_4800acc = [
    [1.3, 1.9, 1.7, 1.5, 1.55, 1.45, 1.5, 1.45, 1.5, 1.45, 1.45, 1.45, 1.4, 1.4, 1.4, 1.4, 1.35, 1.35, 1.35, 1.35, 1.35, 1.35, 1.3, 1.3, 1.3, 1.3],
    [2.2, 2.1, 1.9, 1.75, 1.8, 1.7, 1.7, 1.75, 1.7, 1.7, 1.7, 1.65, 1.65, 1.7, 1.7, 1.7, 1.7, 1.7, 1.7, 1.7, 1.7, 1.7],
    [2.2, 1.9, 1.6, 1.35, 1.28, 1.3, 1.3, 1.28, 1.28, 1.3, 1.3, 1.28, 1.28, 1.28, 1.25, 1.25, 1.25, 1.25, 1.25, 1.25, 1.25, 1.25, 1.25],
    [2.1, 1.9, 1.7, 1.55, 1.55, 1.55, 1.5, 1.5, 1.52, 1.5, 1.5, 1.5, 1.5, 1.5, 1.5, 1.5, 1.5, 1.5, 1.5, 1.5, 1.5, 1.5],
    [2.2, 2.45, 2.0, 1.8, 1.8, 1.82, 1.85, 1.8, 1.82, 1.8, 1.8, 1.82, 1.8, 1.82, 1.8, 1.82, 1.85, 1.82, 1.82, 1.85, 1.85, 1.85, 1.82, 1.85, 1.9],
    [2.3, 2.0, 1.8, 1.6, 1.6, 1.6, 1.6, 1.62, 1.6, 1.6, 1.6, 1.6, 1.6, 1.6, 1.6, 1.6, 1.6, 1.6, 1.6, 1.62, 1.62, 1.62, 1.62, 1.6, 1.6],
    [1.8, 1.6, 1.5, 1.35, 1.4, 1.45, 1.4, 1.45, 1.4, 1.42, 1.4, 1.45, 1.4, 1.4, 1.42, 1.4, 1.38, 1.4, 1.38, 1.38, 1.38, 1.35, 1.35],
    [1.6, 1.7, 1.55, 1.45, 1.45, 1.5, 1.4, 1.45, 1.5, 1.45, 1.4, 1.45, 1.4, 1.4, 1.45, 1.4, 1.38, 1.4, 1.42, 1.4, 1.4, 1.38, 1.35, 1.32, 1.3, 1.3],
]
ft4_6050 = [
    [2.1, 2.3, 1.9, 1.65, 1.7, 1.65, 1.65, 1.7, 1.65, 1.65, 1.65, 1.65, 1.6, 1.6, 1.65, 1.7, 1.75, 1.4, 1.55, 1.6, 1.7],
    [2.0, 2.2, 1.8, 1.5, 1.45, 1.5, 1.45, 1.5, 1.5, 1.5, 1.55, 1.55, 1.6, 1.65, 1.95, 1.7, 1.75, 1.7, 1.75],
    [1.8, 1.7, 1.5, 1.35, 1.25, 1.3, 1.28, 1.28, 1.28, 1.28, 1.28, 1.3, 1.3, 1.3, 1.28, 1.28, 1.3, 1.3, 1.3],
    [2.2, 2.1, 1.9, 1.75, 1.85, 1.6, 1.75, 1.65, 1.7, 1.65, 1.65, 1.65, 1.65, 1.65, 1.7, 1.75, 1.7, 1.6, 1.55, 1.6, 1.65],
    [2.3, 2.5, 2.1, 2.1, 2.15, 2.1, 2.0, 1.95, 1.9, 1.9, 1.95, 2.0, 1.9, 1.85, 1.95, 1.75, 1.6, 2.0, 2.35],
    [2.4, 2.2, 1.8, 1.6, 1.55, 1.55, 1.55, 1.55, 1.52, 1.52, 1.5, 1.5, 1.5, 1.5, 1.5, 1.5, 1.5, 1.52, 1.55, 1.58, 1.6],
    [2.0, 1.8, 1.6, 1.45, 1.4, 1.5, 1.45, 1.4, 1.45, 1.4, 1.45, 1.5, 1.45, 1.5, 1.45, 1.45, 1.45, 1.4],
    [2.2, 2.0, 1.7, 1.4, 1.4, 1.4, 1.4, 1.42, 1.4, 1.4, 1.4, 1.4, 1.4, 1.4, 1.4, 1.4, 1.45, 1.5, 1.4],
]

row_labels = ['GH secr (μg/L/min)', 'PROL secr (μg/L/min)', 'Cort secr (nmol/L/min)',
              'TSH secr (mIU/L/min)', 'fT4 secr (nmol/L/min)']
row_data = [
    [gh_450, gh_4800, gh_4800acc, gh_6050],
    [prol_450, prol_4800, prol_4800acc, prol_6050],
    [cort_450, cort_4800, cort_4800acc, cort_6050],
    [tsh_450, tsh_4800, tsh_4800acc, tsh_6050],
    [ft4_450, ft4_4800, ft4_4800acc, ft4_6050],
]
row_ylims = [(0, 3.35), (0.07, 1.75), (2, 59), (0, 0.49), (0.94, 3.03)]
row_yticks = [[1, 2, 3], [0.5, 1, 1.5], [10, 20, 30, 40, 50], [0.2, 0.4], [1, 2, 3]]
row_yticklabels = [['1', '2', '3'], ['0.5', '1', '1.5'], ['10', '20', '30', '40', '50'],
                   ['0.2', '0.4'], ['1', '2', '3']]
col_xmax = [470, 480, 480, 480]

# MATLAB default line colour order
line_colors = ['#0072BD', '#D95319', '#EDB120', '#7E2F8E', '#77AC30', '#4DBEEE', '#A2142F']

W, H = 1110, 775
fig = plt.figure(figsize=(W / 100, H / 100), dpi=100)

col_left = [86, 351, 615, 878]
row_top = [32, 175, 318, 462, 605]
ax_w, ax_h = 198, 103

for r in range(5):
    for c in range(4):
        ax = fig.add_axes([col_left[c] / W, 1 - (row_top[r] + ax_h) / H, ax_w / W, ax_h / H])
        for k, vals in enumerate(row_data[r][c]):
            ax.plot(minutes[:len(vals)], vals, color=line_colors[k % 7], lw=0.8, alpha=0.9)
        ax.set_xlim(0, col_xmax[c])
        ax.set_ylim(*row_ylims[r])
        ax.set_xticks([0, 200, 400])
        ax.set_xticklabels(['0', '200', '400'])
        ax.set_yticks(row_yticks[r])
        ax.set_yticklabels(row_yticklabels[r])
        ax.tick_params(direction='in', length=3, width=0.6, top=True, right=True,
                       labelsize=13.5, color='#666666', labelcolor='#222222')
        ax.tick_params(axis='x', pad=9)
        ax.tick_params(axis='y', pad=5)
        for sp in ax.spines.values():
            sp.set_color('#666666')
            sp.set_linewidth(0.8)
        if r == 0:
            ax.set_title(conditions[c], fontsize=14.5, fontweight='bold', pad=6)

    fig.text(21 / W, 1 - (row_top[r] + ax_h / 2) / H, row_labels[r], rotation=90,
             ha='center', va='center', fontsize=10, color='#222222')

fig.text(598 / W, 1 - 762 / H, 'time (min)', ha='center', va='center',
         fontsize=14.5, color='#222222')

fig.savefig('out.png', dpi=100, facecolor='white')
